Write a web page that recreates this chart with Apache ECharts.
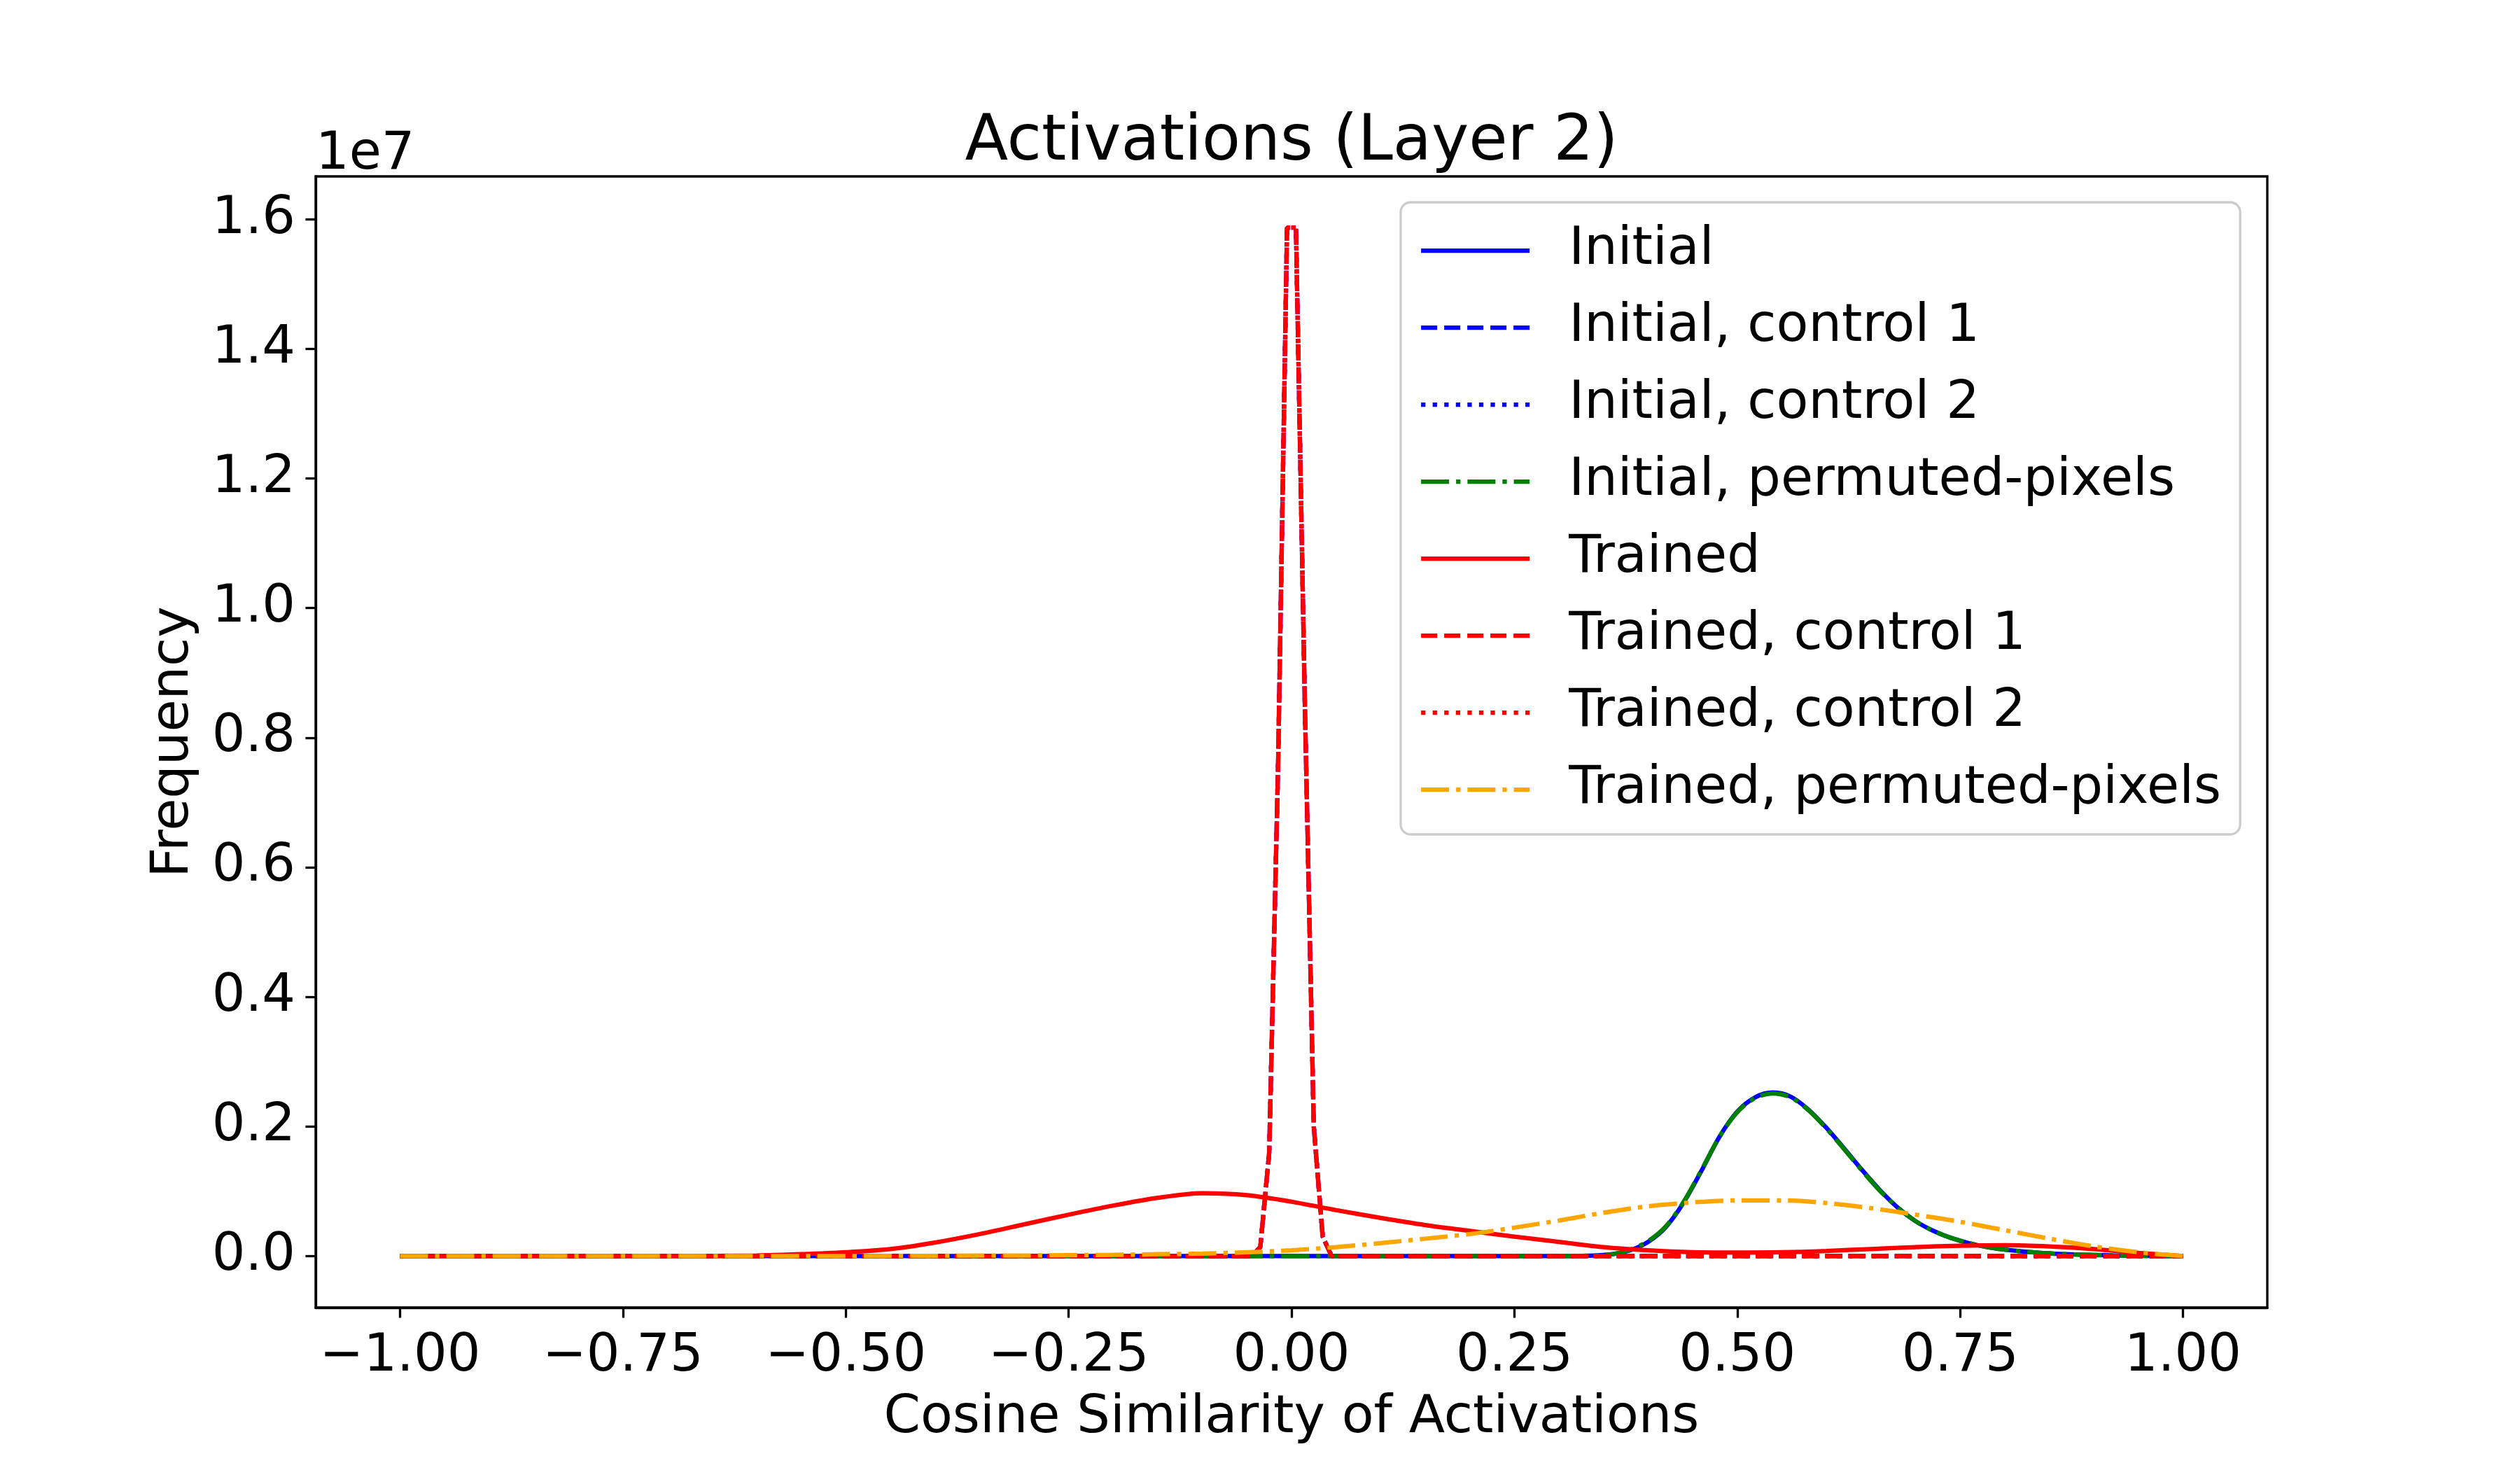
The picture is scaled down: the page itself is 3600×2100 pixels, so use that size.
<!DOCTYPE html>
<html>
<head>
<meta charset="utf-8">
<script src="https://cdn.jsdelivr.net/npm/echarts@6/dist/echarts.min.js"></script>
<style>
  html, body { margin: 0; padding: 0; background: #fff; }
  #chart { width: 3600px; height: 2100px; }
</style>
</head>
<body>
<div id="chart"></div>
<script>
// frequency values are in units of 1e7 (axis offset label "1e7")

// Initial / Initial, permuted-pixels
const initialX = [-1, 0.30, 0.34, 0.36, 0.38, 0.40, 0.42, 0.44, 0.46, 0.48, 0.50, 0.52, 0.54, 0.56, 0.58,
  0.60, 0.62, 0.64, 0.66, 0.68, 0.70, 0.72, 0.74, 0.76, 0.78, 0.80, 0.84, 0.88, 0.92, 0.96, 1.0];
const initialY = [0, 0, 0.001, 0.003, 0.009, 0.022, 0.045, 0.083, 0.132, 0.184, 0.223, 0.245, 0.2525, 0.246, 0.226,
  0.198, 0.166, 0.133, 0.102, 0.075, 0.054, 0.039, 0.028, 0.020, 0.014, 0.010, 0.005, 0.0025, 0.0012, 0.0004, 0];
const initialPermY = [0, 0, 0.001, 0.003, 0.010, 0.023, 0.046, 0.084, 0.133, 0.184, 0.222, 0.244, 0.251, 0.245, 0.225,
  0.197, 0.165, 0.132, 0.101, 0.075, 0.054, 0.039, 0.028, 0.020, 0.014, 0.010, 0.005, 0.0025, 0.0012, 0.0004, 0];

// Trained / Trained, permuted-pixels
const trainedX = [-1, -0.7, -0.6, -0.55, -0.5, -0.45, -0.4, -0.35, -0.3, -0.25, -0.2, -0.15, -0.1, -0.05, 0,
  0.05, 0.1, 0.15, 0.2, 0.25, 0.3, 0.35, 0.4, 0.45, 0.5, 0.55, 0.6, 0.65, 0.7, 0.75, 0.8, 0.85, 0.9, 0.95, 1.0];
const trainedY = [0, 0, 0.001, 0.003, 0.006, 0.011, 0.021, 0.034, 0.049, 0.064, 0.078, 0.090, 0.097, 0.094, 0.084,
  0.071, 0.059, 0.048, 0.039, 0.030, 0.022, 0.014, 0.009, 0.006, 0.0055, 0.006, 0.008, 0.011, 0.014, 0.016, 0.0168, 0.015, 0.011, 0.005, 0];
const trainedPermY = [0, 0, 0, 0, 0.0002, 0.0003, 0.0005, 0.0008, 0.001, 0.0015, 0.002, 0.003, 0.004, 0.006, 0.009,
  0.014, 0.020, 0.027, 0.034, 0.044, 0.055, 0.067, 0.077, 0.083, 0.086, 0.086, 0.082, 0.074, 0.064, 0.053, 0.040, 0.027, 0.015, 0.006, 0];

// controls (all four sit on the same narrow spike at 0)
const controlX = [-1, -0.045, -0.035, -0.025, -0.015, -0.005, 0.005, 0.015, 0.025, 0.035, 0.045, 1.0];
const controlY = [0, 0, 0.014, 0.160, 0.760, 1.587, 1.587, 0.850, 0.200, 0.030, 0, 0];

const xTicks = [-1, -0.75, -0.5, -0.25, 0, 0.25, 0.5, 0.75, 1];
const yTicks = [0, 0.2, 0.4, 0.6, 0.8, 1.0, 1.2, 1.4, 1.6];

const FONT = 'DejaVu Sans';
const LW = 6.25;
const DASHED = [23, 10];
const DOTTED = [6.25, 10.3];
const DASHDOT = [40, 10, 6.25, 10];

function pairs(xs, ys) {
  return xs.map((x, i) => [x, ys[i]]);
}

function line(name, xs, ys, color, type, smooth) {
  return {
    name: name,
    type: 'line',
    data: pairs(xs, ys),
    symbol: 'none',
    smooth: smooth ? 0.3 : false,
    lineStyle: { color: color, width: LW, type: type, cap: 'butt' },
    itemStyle: { color: color }
  };
}

const myChart = echarts.init(document.getElementById('chart'));

const option = {
  animation: false,
  backgroundColor: '#fff',
  textStyle: { fontFamily: FONT },
  title: {
    text: 'Activations (Layer 2)',
    left: 1840,
    textAlign: 'center',
    top: 155,
    textStyle: { fontFamily: FONT, fontSize: 90, fontWeight: 'normal', color: '#000' }
  },
  graphic: [
    {
      type: 'text',
      left: 451,
      top: 184,
      style: { text: '1e7', font: '75px "DejaVu Sans"', fill: '#000' }
    }
  ],
  legend: {
    orient: 'vertical',
    left: 2001,
    top: 289,
    padding: [14, 27, 9, 26],
    itemWidth: 155,
    itemHeight: 20,
    itemGap: 0,
    itemStyle: { opacity: 0 },
    lineStyle: { width: LW },
    borderColor: '#cccccc',
    borderWidth: 3.3,
    borderRadius: 14,
    backgroundColor: 'rgba(255,255,255,0.8)',
    textStyle: {
      fontFamily: FONT,
      fontSize: 75,
      color: '#000',
      lineHeight: 110,
      padding: [0, 0, 0, 51]
    },
    data: ['Initial', 'Initial, control 1', 'Initial, control 2', 'Initial, permuted-pixels',
      'Trained', 'Trained, control 1', 'Trained, control 2', 'Trained, permuted-pixels']
  },
  grid: {
    left: 451,
    right: 361,
    top: 252,
    bottom: 232,
    show: true,
    borderColor: '#000',
    borderWidth: 3.3,
    backgroundColor: 'transparent'
  },
  xAxis: {
    type: 'value',
    min: -1.0946,
    max: 1.0946,
    name: 'Cosine Similarity of Activations',
    nameLocation: 'middle',
    nameGap: 121,
    nameTextStyle: { fontFamily: FONT, fontSize: 75, color: '#000' },
    axisLine: { show: true, onZero: false, lineStyle: { color: '#000', width: 3.3 } },
    axisTick: { show: true, length: 14.6, lineStyle: { color: '#000', width: 3.3 }, customValues: xTicks },
    axisLabel: {
      customValues: xTicks,
      fontFamily: FONT,
      fontSize: 75,
      color: '#000',
      margin: 33,
      formatter: v => (v < 0 ? '\u2212' : '') + Math.abs(v).toFixed(2)
    },
    splitLine: { show: false }
  },
  yAxis: {
    type: 'value',
    min: -0.0794,
    max: 1.666,
    name: 'Frequency',
    nameLocation: 'middle',
    nameRotate: 90,
    nameGap: 165,
    nameTextStyle: { fontFamily: FONT, fontSize: 75, color: '#000' },
    axisLine: { show: true, onZero: false, lineStyle: { color: '#000', width: 3.3 } },
    axisTick: { show: true, length: 14.6, lineStyle: { color: '#000', width: 3.3 }, customValues: yTicks },
    axisLabel: {
      customValues: yTicks,
      fontFamily: FONT,
      fontSize: 75,
      color: '#000',
      margin: 29,
      formatter: v => v.toFixed(1)
    },
    splitLine: { show: false }
  },
  series: [
    line('Initial', initialX, initialY, '#0000ff', 'solid', true),
    line('Initial, control 1', controlX, controlY, '#0000ff', DASHED, false),
    line('Initial, control 2', controlX, controlY, '#0000ff', DOTTED, false),
    line('Initial, permuted-pixels', initialX, initialPermY, '#008000', DASHDOT, true),
    line('Trained', trainedX, trainedY, '#ff0000', 'solid', true),
    line('Trained, control 1', controlX, controlY, '#ff0000', DASHED, false),
    line('Trained, control 2', controlX, controlY, '#ff0000', DOTTED, false),
    line('Trained, permuted-pixels', trainedX, trainedPermY, '#ffa500', DASHDOT, true)
  ]
};

myChart.setOption(option);
</script>
</body>
</html>
